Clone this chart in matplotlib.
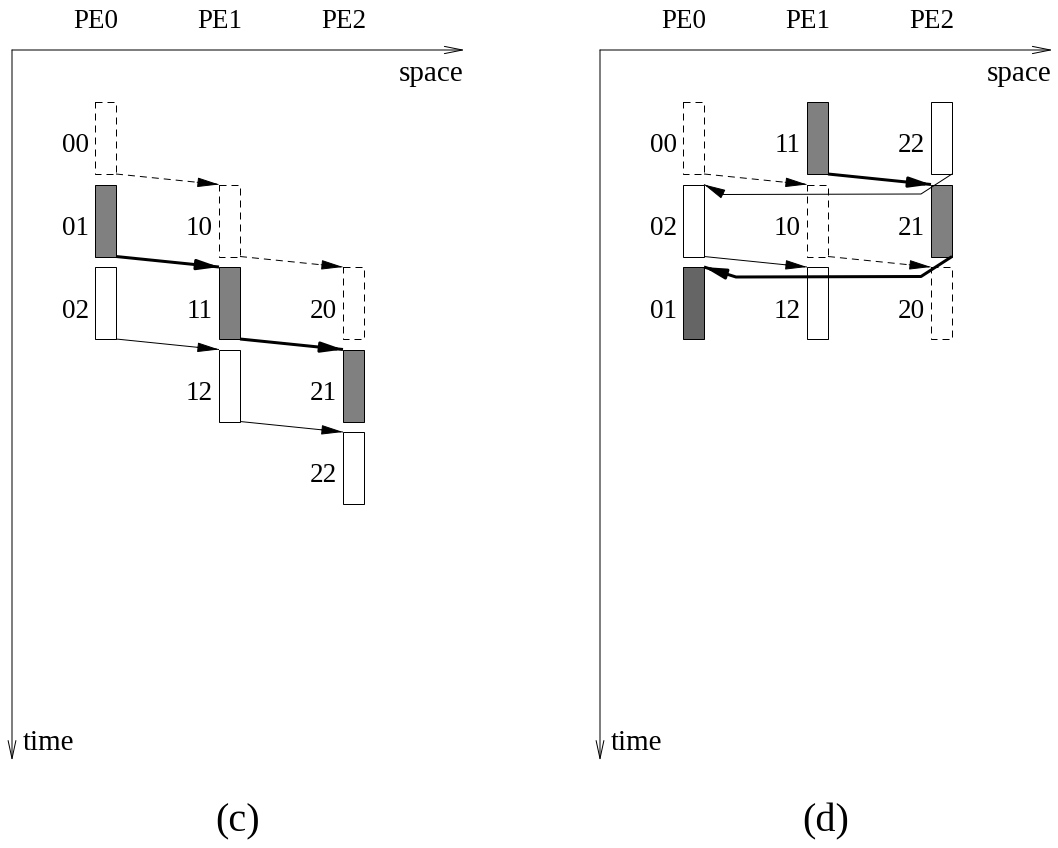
import matplotlib
matplotlib.use('Agg')
import matplotlib.pyplot as plt
from matplotlib.patches import Rectangle, FancyArrowPatch

plt.rcParams['font.family'] = ['Liberation Serif', 'DejaVu Serif']

pe_names = ['PE0', 'PE1', 'PE2']

# panel (c)
task_c = ['00', '01', '02', '10', '11', '12', '20', '21', '22']
pe_c = [0, 0, 0, 1, 1, 1, 2, 2, 2]
slot_c = [0, 1, 2, 1, 2, 3, 2, 3, 4]
kind_c = ['dashed', 'shaded', 'plain', 'dashed', 'shaded', 'plain', 'dashed', 'shaded', 'plain']
msg_c = [('00', '10', 'dashed'), ('01', '11', 'thick'), ('10', '20', 'dashed'),
         ('02', '12', 'thin'), ('11', '21', 'thick'), ('12', '22', 'thin')]

# panel (d)
task_d = ['00', '02', '01', '11', '10', '12', '22', '21', '20']
pe_d = [0, 0, 0, 1, 1, 1, 2, 2, 2]
slot_d = [0, 1, 2, 0, 1, 2, 0, 1, 2]
kind_d = ['dashed', 'plain', 'dark', 'shaded', 'dashed', 'plain', 'plain', 'shaded', 'dashed']
msg_d = [('00', '10', 'dashed'), ('11', '21', 'thick'), ('22', '02', 'thin'),
         ('02', '12', 'thin'), ('10', '20', 'dashed'), ('21', '01', 'thick')]

PX = 0.72  # one pixel in points at dpi 100
fig = plt.figure(figsize=(10.58, 8.48), dpi=100)
ax = fig.add_axes([0, 0, 1, 1])
ax.set_xlim(0, 1058)
ax.set_ylim(848, 0)
ax.axis('off')

BW, BH = 21, 72
DASH = (0, (7, 5))


def box(x0, pe, slot):
    left = x0 + 83 + 124 * pe
    top = 102 + 82.5 * slot
    return left, top


def arrow_line(pts, style):
    lw = 3 * PX if style == 'thick' else 1 * PX
    ls = DASH if style == 'dashed' else '-'
    xs = [p[0] for p in pts]
    ys = [p[1] for p in pts]
    ax.plot(xs, ys, color='black', lw=lw, linestyle=ls, solid_capstyle='butt')
    # solid filled head on the last segment
    (xa, ya), (xb, yb) = pts[-2], pts[-1]
    d = ((xb - xa) ** 2 + (yb - ya) ** 2) ** 0.5
    f = min(1.0, 22 / d)
    start = (xb - (xb - xa) * f, yb - (yb - ya) * f)
    hl = 13.5 if style != 'thick' else 12.5
    ax.add_patch(FancyArrowPatch(start, (xb, yb),
                                 arrowstyle='-|>,head_length=%g,head_width=3' % hl,
                                 color='black', lw=lw, shrinkA=0, shrinkB=0,
                                 mutation_scale=1))


def draw_panel(x0, tasks, pes, slots, kinds, msgs, title):
    # axes
    ax.add_patch(FancyArrowPatch((x0, 50), (x0 + 453, 50),
                                 arrowstyle='->,head_length=13,head_width=2.6',
                                 color='black', lw=PX, shrinkA=0, shrinkB=0))
    ax.add_patch(FancyArrowPatch((x0, 50), (x0, 761),
                                 arrowstyle='->,head_length=13,head_width=2.8',
                                 color='black', lw=PX, shrinkA=0, shrinkB=0))
    ax.text(x0 + 451, 74, 'space', fontsize=21, ha='right', va='center')
    ax.text(x0 + 11, 743, 'time', fontsize=21, ha='left', va='center')
    for i, name in enumerate(pe_names):
        ax.text(x0 + 84 + 124 * i, 22, name, fontsize=19.5, ha='center', va='center')
    ax.text(x0 + 226, 822, title, fontsize=29, ha='center', va='center')

    pos = {}
    for t, pe, s, k in zip(tasks, pes, slots, kinds):
        left, top = box(x0, pe, s)
        pos[t] = (left, top, pe)
        if k == 'dashed':
            r = Rectangle((left, top), BW, BH, fill=False, ec='black', lw=PX, linestyle=DASH)
        else:
            fc = {'plain': 'white', 'shaded': '#808080', 'dark': '#656565'}[k]
            r = Rectangle((left, top), BW, BH, fc=fc, ec='black', lw=PX)
        ax.add_patch(r)
        ax.text(left - 6, top + BH / 2 + 8, t, fontsize=19.5, ha='right', va='center')

    for src, dst, style in msgs:
        sl, st, spe = pos[src]
        dl, dt, dpe = pos[dst]
        if dpe > spe:
            pts = [(sl + BW, st + BH), (dl, dt)]
        else:
            off = 20 if style == 'thin' else 32
            pts = [(sl + BW, st + BH), (sl - 10, st + BH + 20),
                   (dl + BW + off, dt + 10), (dl + BW, dt)]
        arrow_line(pts, style)


draw_panel(12, task_c, pe_c, slot_c, kind_c, msg_c, '(c)')
draw_panel(600, task_d, pe_d, slot_d, kind_d, msg_d, '(d)')

fig.savefig('out.png', dpi=100)
